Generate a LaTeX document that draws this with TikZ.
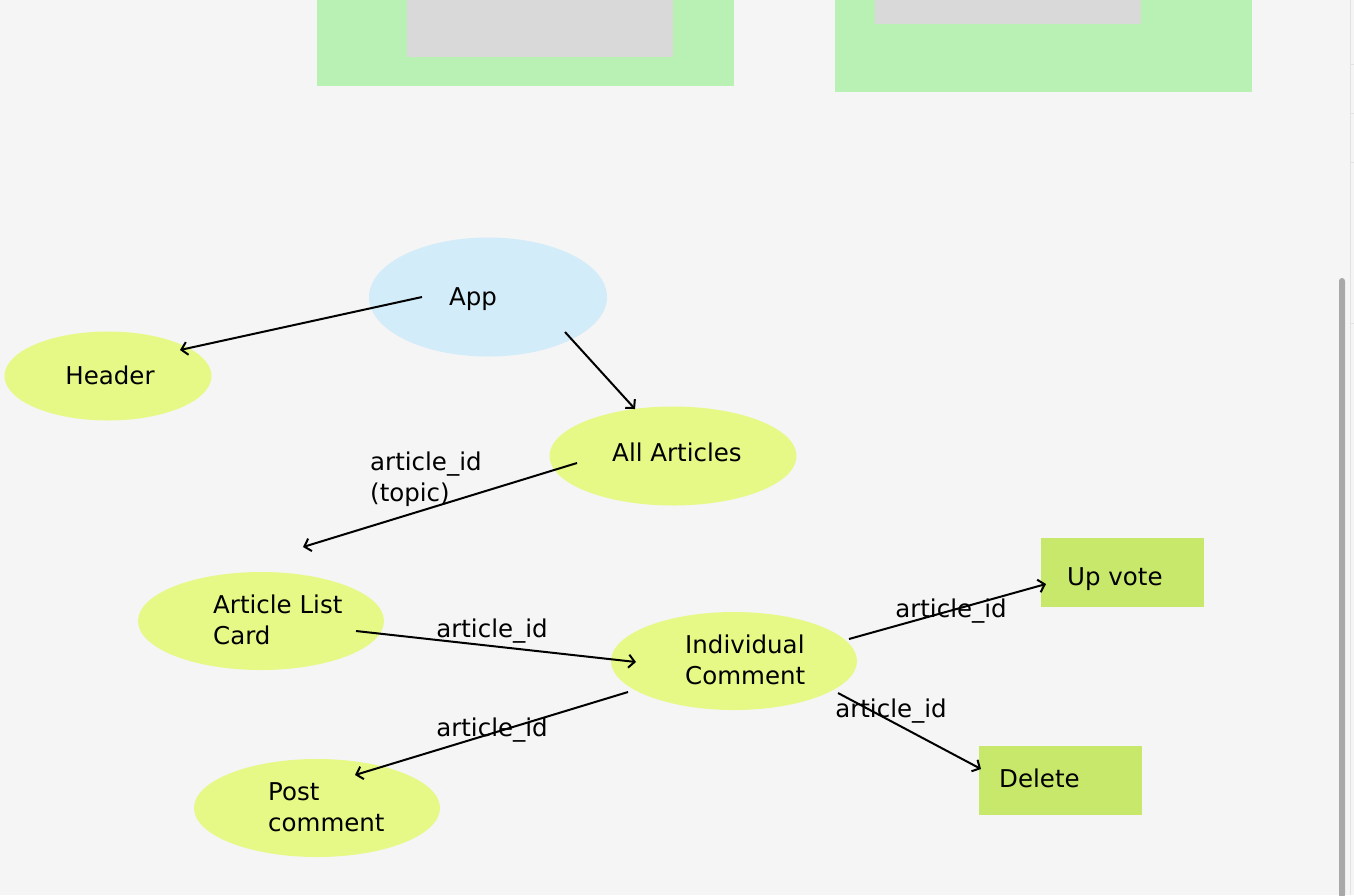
\documentclass[tikz,border=0pt]{standalone}
\usepackage{fontspec}
\setmainfont{DejaVu Sans}
\usetikzlibrary{arrows.meta,shapes.geometric}
\definecolor{bg}{HTML}{F5F5F5}
\definecolor{ovgreen}{HTML}{E6F986}
\definecolor{ovblue}{HTML}{D2ECF9}
\definecolor{boxgreen}{HTML}{C8E86B}
\definecolor{topgreen}{HTML}{B9F0B4}
\definecolor{topgray}{HTML}{D9D9D9}
\definecolor{scroll}{HTML}{A8A8A8}
\definecolor{edgeline}{HTML}{E2E2E2}
\tikzset{
  x=1pt,y=-1pt,
  txt/.style={font=\fontsize{24.5}{31}\selectfont, inner sep=0pt, text=black},
  ov/.style={ellipse, fill=ovgreen, draw=none, minimum width=246, minimum height=98, inner sep=0pt},
  vbox/.style={rectangle, fill=boxgreen, draw=none, minimum width=163, minimum height=69, inner sep=0pt},
  conn/.style={draw=black, line width=2pt, -{Straight Barb[length=6pt,width=13pt,line width=2pt]}},
}
\begin{document}
\begin{tikzpicture}
\fill[bg] (0,0) rectangle (1354,895);
\useasboundingbox (0,0) rectangle (1354,895);
% top panels
\fill[topgreen] (317,0) rectangle (734,86);
\fill[topgray] (407,0) rectangle (673,57);
\fill[topgreen] (835,0) rectangle (1252,92);
\fill[topgray] (875,0) rectangle (1141,24);
% scroll area
\draw[edgeline, line width=1pt] (1350.5,0) -- (1350.5,895);
\foreach \yy in {64,113,162,323} \draw[edgeline, line width=1pt] (1350.5,\yy) -- (1354,\yy);
\fill[scroll, rounded corners=3pt] (1339,278) rectangle (1345,898);
% nodes
\node[ellipse, fill=ovblue, minimum width=238, minimum height=119, inner sep=0pt] (app) at (488,297) {};
\node[txt] (apptxt) at (473,299) {App};
\node[ov, minimum width=207, minimum height=89] (header) at (108,376) {};
\node[txt] (headertxt) at (110,375) {Header};
\node[ov, minimum width=247, minimum height=99] (all) at (673,456) {};
\node[txt] (alltxt) at (677,452) {All Articles};
\node[ov] (alc) at (261,621) {};
\node[txt, anchor=west, align=left] (alctxt) at (213,620) {Article List\\Card};
\node[ov] (ind) at (734,661) {};
\node[txt, anchor=west, align=left] (indtxt) at (685,660) {Individual\\Comment};
\node[ov] (post) at (317,808) {};
\node[txt, anchor=west, align=left] (posttxt) at (268,807) {Post\\comment};
\node[vbox] (up) at (1122.5,572) {};
\node[txt, anchor=west] (uptxt) at (1067,579) {Up vote};
\node[vbox] (del) at (1060.5,780.5) {};
\node[txt, anchor=west] (deltxt) at (999,778) {Delete};
% connector end points
\coordinate (a1) at (422,297); \coordinate (h1) at (180,350);
\coordinate (a2) at (565,332); \coordinate (l1) at (635,409);
\coordinate (l2) at (577,463); \coordinate (c1) at (303,547);
\coordinate (c2) at (356,631); \coordinate (i1) at (636,662);
\coordinate (i2) at (628,692); \coordinate (p1) at (355,775);
\coordinate (i3) at (849,639); \coordinate (u1) at (1046,584);
\coordinate (i4) at (838,693); \coordinate (d1) at (981,769);
% connectors
\draw[conn] (a1) -- (h1);
\draw[conn] (a2) -- (l1);
\draw[conn] (l2) -- (c1);
\draw[conn] (c2) -- (i1);
\draw[conn] (i2) -- (p1);
\draw[conn] (i3) -- (u1);
\draw[conn] (i4) -- (d1);
% labels
\node[txt, anchor=west, align=left] (lab1) at (370,479) {article\_id\\(topic)};
\node[txt] (lab2) at (492,631) {article\_id};
\node[txt] (lab3) at (492,730) {article\_id};
\node[txt] (lab4) at (951,611) {article\_id};
\node[txt] (lab5) at (891,711) {article\_id};
\end{tikzpicture}
\end{document}
